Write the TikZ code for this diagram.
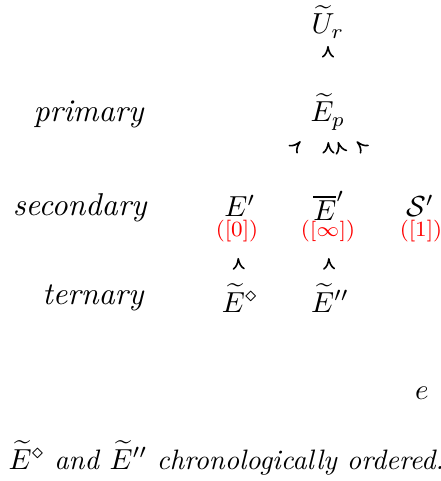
\documentclass[tikz,border=0pt]{standalone}
\usetikzlibrary{arrows.meta,decorations.markings}
\newdimen\pxu \pxu=0.345pt
\begin{document}
\begin{tikzpicture}[x=0.345pt,y=-0.345pt,
  obj/.style={inner sep=0pt},
  rowlab/.style={inner sep=0pt,anchor=east,font=\fontsize{10.9}{13}\selectfont\itshape},
  redlab/.style={inner sep=0pt,text=red,font=\fontsize{7.5}{9}\selectfont},
  onlytip/.style={decoration={markings,mark=at position -#1\pxu with {\arrow[line width=0.55pt]{Computer Modern Rightarrow[width=4.2pt,length=4pt]}}},postaction=decorate}]
\useasboundingbox (0,0) rectangle (441,481);
\node[obj] (Ur) at (328,22) {$\widetilde{U}_r$};
\node[obj] (Ep) at (328,112) {$\widetilde{E}_p$};
\node[rowlab] (prim) at (144,114) {primary};
\node[rowlab] (sec) at (147,208) {secondary};
\node[rowlab] (ter) at (144,298) {ternary};
\node[obj] (E1) at (240,206) {$E'$};
\node[obj] (Eb) at (329,206) {$\overline{E}'$};
\node[obj] (S1) at (420,206) {$\mathcal{S}'$};
\node[redlab] (l0) at (237,231) {([0])};
\node[redlab] (linf) at (328,231) {($[\infty]$)};
\node[redlab] (l1) at (421,231) {([1])};
\node[obj] (Ed) at (240,298) {$\widetilde{E}^\diamond$};
\node[obj] (Edd) at (330,298) {$\widetilde{E}''$};
\node[obj] (e) at (422,393) {$e$};
\node[obj,anchor=west,font=\fontsize{9.7}{11.5}\selectfont] (cap) at (8,458) {$\widetilde{E}^\diamond$ \textit{and} $\widetilde{E}''$ \textit{chronologically ordered.}};
\path[onlytip=24] (Ep.center) -- (Ur.center);
\path[onlytip=40] (E1.center) -- (Ep.center);
\path[onlytip=30] (Eb.center) -- (Ep.center);
\path[onlytip=41] (S1.center) -- (Ep.center);
\path[onlytip=31.5] (e.center) -- (Ep.center);
\path[onlytip=27] (Ed.center) -- (l0.center);
\path[onlytip=27] (Edd.center) -- (linf.center);
\end{tikzpicture}
\end{document}
